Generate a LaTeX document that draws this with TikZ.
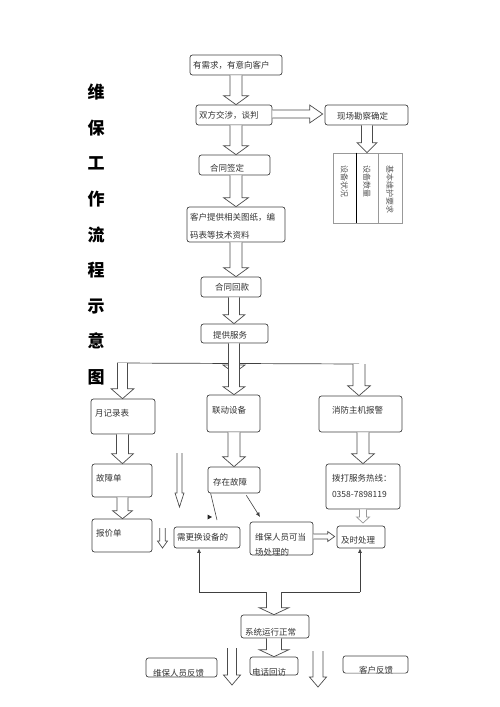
\documentclass[tikz,border=0pt]{standalone}
\usepackage{fontspec}
\newfontfamily\cjk{Noto Sans CJK SC}
\usetikzlibrary{calc,arrows.meta}
\tikzset{
 box/.style={draw=black!75, line width=0.7pt, rounded corners=2.5pt, fill=white, inner xsep=0pt, inner ysep=0pt, align=left, text=black!80, font=\cjk\fontsize{8.5}{10.5}\selectfont},
 colbox/.style={draw=black!40, line width=0.7pt, rotate=-90, inner sep=0pt, align=left, text=black!65, font=\cjk\fontsize{8}{10}\selectfont, minimum width=70pt, text width=46pt},
 fat/.style={draw=black!70, fill=white, line width=0.7pt},
 fatg/.style={draw=black!40, fill=white, line width=0.7pt},
 ln/.style={draw=black!75, line width=0.7pt},
 tipa/.style={-{Latex[length=4.5pt,width=4pt]}},
}
\newcommand\fatdown[6][fat]{\draw[#1] let \p1=#2, \p2=#3 in (\x1-#4,\y1) -- (\x1-#4,\y2+#6) -- (\x1-#5,\y2+#6) -- (\x1,\y2) -- (\x1+#5,\y2+#6) -- (\x1+#4,\y2+#6) -- (\x1+#4,\y1);}
\newcommand\fatright[5]{\draw[fat] let \p1=#1, \p2=#2 in (\x1,\y1+#3) -- (\x2-#5,\y1+#3) -- (\x2-#5,\y1+#4) -- (\x2,\y1) -- (\x2-#5,\y1-#4) -- (\x2-#5,\y1-#3) -- (\x1,\y1-#3);}
\begin{document}
\begin{tikzpicture}[x=1pt,y=-1pt]
\useasboundingbox (0,0) rectangle (500,707);
% title
\node[font=\cjk\bfseries\fontsize{17}{35.6}\selectfont, align=center, text=black, inner sep=0pt] (title) at (96,234.5) {维\\保\\工\\作\\流\\程\\示\\意\\图};
% column coordinates
\coordinate (xa) at (236,0);
\coordinate (xb) at (234,0);
\coordinate (xc) at (367,0);
\coordinate (xL) at (122.5,0);
\coordinate (xR) at (359,0);
\coordinate (xR2) at (363,0);
\coordinate (xS) at (274,0);
% top column
\node[box, minimum width=92pt, minimum height=20pt, text width=86pt, text height=11.2pt, text depth=4.8pt] (n1) at (236,65) {有需求，有意向客户};
\node[box, minimum width=76pt, minimum height=20pt, text width=70pt, text height=11.2pt, text depth=4.8pt] (n2) at (234,115) {双方交涉，谈判};
\node[box, minimum width=83pt, minimum height=20pt, text width=59pt, text height=12.2pt, text depth=3.8pt] (n3) at (366.5,115) {现场勘察确定};
\node[box, minimum width=71pt, minimum height=20pt, text width=49pt, text height=14.2pt, text depth=1.8pt] (n4) at (234.5,165) {合同签定};
\node[box, minimum width=98pt, minimum height=35pt, text width=92pt, text height=3.7pt, text depth=12.3pt] (n5) at (236,224.5) {客户提供相关图纸，编\\[7.5pt]码表等技术资料};
\node[box, minimum width=60pt, minimum height=20pt, text width=32pt, text height=11.2pt, text depth=4.8pt] (n6) at (231,287) {合同回款};
\node[box, minimum width=67pt, minimum height=19pt, text width=43pt, text height=12.7pt, text depth=3.3pt] (n7) at (234.5,333.5) {提供服务};
% columns
\node[colbox, minimum height=23pt] (c1) at (344.5,188) {设备状况};
\node[colbox, minimum height=22pt] (c2) at (367,188) {设备数量};
\node[colbox, minimum height=24pt] (c3) at (390,188) {基本维护要求};
\draw[line width=1.2pt, black] (c1.north west) -- (c1.north east);
% fat arrows top part
\fatdown{(xa|-n1.south)}{(xa|-n2.north)}{6pt}{12.5pt}{9pt}
\fatright{($(n2.east)+(0,-1)$)}{($(n3.west)+(-2,0)$)}{4pt}{9pt}{13pt}
\fatdown{(xc|-n3.south)}{(xc|-c2.west)}{5.5pt}{10pt}{10pt}
\fatdown{(xa|-n2.south)}{(xa|-n4.north)}{6pt}{12.5pt}{9pt}
\fatdown{(xa|-n4.south)}{(xa|-n5.north)}{6pt}{12.5pt}{9pt}
\fatdown{(xa|-n5.south)}{(xa|-n6.north)}{6pt}{12.5pt}{9pt}
% distribution line
\coordinate (hl1) at (117,363);
\coordinate (hl2) at (359,364);
\draw[ln] (hl1) -- (hl2);
\coordinate (a8) at (234,373);
% row 1
\node[box, minimum width=64pt, minimum height=35pt, text width=56pt, text height=7.7pt, text depth=8.3pt] (m1) at (123,416.5) {月记录表};
\node[box, minimum width=53pt, minimum height=37pt, text width=43pt, text height=7.7pt, text depth=8.3pt] (m2) at (233.5,413.5) {联动设备};
\node[box, minimum width=83pt, minimum height=36pt, text width=57pt, text height=7.2pt, text depth=8.8pt] (m3) at (360.5,414) {消防主机报警};
\fatdown{(xb|-n6.south)}{(xb|-n7.north)}{5.5pt}{11pt}{9pt}
\fatdown{(xb|-n7.south)}{(a8)}{5.5pt}{11pt}{8pt}
\fatdown{(xb|-hl1)}{(xb|-m2.north)}{5.5pt}{11pt}{8pt}
\fatdown{(xL|-hl1)}{(xL|-m1.north)}{5pt}{11.5pt}{10pt}
\fatdown{(xR|-hl2)}{(xR|-m3.north)}{6pt}{11.5pt}{10pt}
% row 2
\node[box, minimum width=60pt, minimum height=33pt, text width=52pt, text height=8.7pt, text depth=7.3pt] (r1) at (122,480.5) {故障单};
\node[box, minimum width=52pt, minimum height=26pt, text width=42pt, text height=13.2pt, text depth=2.8pt] (r2) at (234,480) {存在故障};
\node[box, minimum width=74pt, minimum height=45pt, text width=62pt, text height=2.7pt, text depth=13.3pt] (r3) at (363,486.5) {拨打服务热线：\\[5.5pt]0358-7898119};
\fatdown{(xL|-m1.south)}{(xL|-r1.north)}{6pt}{11pt}{10pt}
\fatdown{(xb|-m2.south)}{(xb|-r2.north)}{6pt}{11.5pt}{10pt}
\fatdown{(xR2|-m3.south)}{(xR2|-r3.north)}{6pt}{11.5pt}{10pt}
% row 3
\node[box, minimum width=60pt, minimum height=33pt, text width=52pt, text height=8.7pt, text depth=7.3pt] (q0) at (122,535.5) {报价单};
\node[box, minimum width=66pt, minimum height=21pt, text width=60pt, text height=10.7pt, text depth=5.3pt] (q1) at (207,537.5) {需更换设备的};
\node[box, minimum width=63pt, minimum height=33pt, text width=53pt, text height=9.7pt, text depth=6.3pt] (q2) at (281.5,538.5) {维保人员可当\\[4.5pt]场处理的};
\node[box, minimum width=48pt, minimum height=22pt, text width=40pt, text height=14.2pt, text depth=1.8pt] (q3) at (361,537) {及时处理};
\fatdown{(xL|-r1.south)}{(xL|-q0.north)}{5.5pt}{10pt}{8pt}
% free fat arrows
\coordinate (f1a) at (179.5,453);
\coordinate (f1b) at (179.5,507);
\fatdown{(f1a)}{(f1b)}{2.5pt}{4.5pt}{14pt}
\coordinate (f2a) at (162.5,528);
\coordinate (f2b) at (162.5,548);
\fatdown{(f2a)}{(f2b)}{2.8pt}{5pt}{7pt}
% grey arrow to 及时处理
\coordinate (a18) at (363.5,523);
\fatdown[fatg]{(xR2|-r3.south)}{(a18)}{3.5pt}{6.5pt}{6pt}
\fatright{($(q2.east)+(0,-2)$)}{($(q3.west)+(-2,0)$)}{2.5pt}{5pt}{7pt}
% thin connectors from 存在故障
\coordinate (e1) at (217,520);
\draw[ln, line width=0.6pt] ($(r2.south west)+(3,0)$) -- (e1);
\fill[black!85] (207.5,514.5) -- (212,517) -- (207.5,519.5) -- cycle;
\coordinate (e2) at (260,517);
\draw[ln, line width=0.6pt, tipa] ($(r2.south east)+(-14,2)$) -- (e2);
% feedback loop
\coordinate (pL) at (199,592);
\coordinate (pR) at (360,592);
\draw[ln] (pL) -- (pR);
\draw[ln, tipa] (pL) -- (pL|-q1.south);
\draw[ln, tipa] (pR) -- (pR|-q3.south);
% bottom part
\node[box, minimum width=68pt, minimum height=23pt, text width=60pt, text height=17.7pt, text depth=0.3pt] (s1) at (275,626.5) {系统运行正常};
\fatdown{(xS|-pL)}{(xS|-s1.north)}{7.5pt}{15pt}{7pt}
\node[box, minimum width=71pt, minimum height=19pt, text width=57pt, text height=17.7pt, text depth=0.3pt] (t1) at (181.5,667.5) {维保人员反馈};
\node[box, minimum width=48pt, minimum height=18pt, text width=44pt, text height=18pt, text depth=0pt] (t2) at (274,666) {电话回访};
\node[box, minimum width=65pt, minimum height=17pt, text width=33pt, text height=17.2pt, text depth=0pt] (t3) at (375.5,664.5) {客户反馈};
\fatdown{(xS|-s1.south)}{(xS|-t2.north)}{7.5pt}{15pt}{7pt}
\coordinate (f3a) at (232,648);
\coordinate (f3b) at (232,685);
\fatdown{(f3a)}{(f3b)}{4.5pt}{8.5pt}{10pt}
\coordinate (f4a) at (318,651);
\coordinate (f4b) at (318,687);
\fatdown{(f4a)}{(f4b)}{5pt}{8.5pt}{10pt}
\end{tikzpicture}
\end{document}
